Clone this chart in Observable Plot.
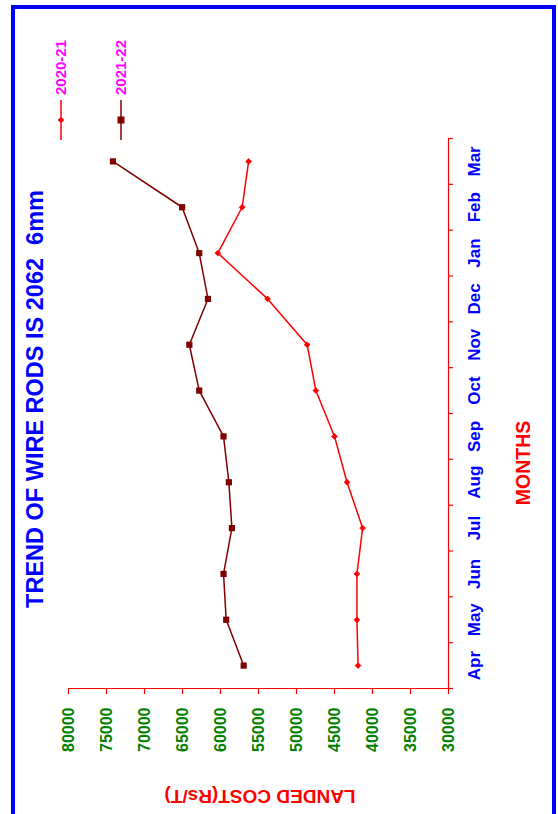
<!DOCTYPE html>
<html><head><meta charset="utf-8">
<script src="https://cdn.jsdelivr.net/npm/d3@7"></script>
<script src="https://cdn.jsdelivr.net/npm/@observablehq/plot@0.6"></script>
<style>
html,body{margin:0;padding:0;background:#fff;overflow:hidden;}
#page{position:relative;width:558px;height:814px;overflow:hidden;background:#fff;}
#wrap{position:absolute;left:0;top:0;width:814px;height:558px;transform-origin:0 0;transform:translate(0,814px) rotate(-90deg);}
#chart{position:absolute;left:0;top:0;width:814px;height:558px;}
#border{position:absolute;left:-10px;top:11px;width:819px;height:545px;border:4px solid #0000ff;box-sizing:border-box;pointer-events:none;}
</style></head><body>
<div id="page"><div id="wrap"><div id="chart"></div><div id="border"></div></div></div>
<script>
const months = ["Apr","May","Jun","Jul","Aug","Sep","Oct","Nov","Dec","Jan","Feb","Mar"];
const seriesNames = ["2020-21", "2021-22"];
const cost2020_21 = [41900, 42050, 42050, 41300, 43350, 45000, 47450, 48600, 53800, 60350, 57150, 56300];
const cost2021_22 = [56950, 59250, 59600, 58500, 58900, 59600, 62800, 64100, 61650, 62800, 65050, 74150];
const costTicks = [30000, 35000, 40000, 45000, 50000, 55000, 60000, 65000, 70000, 75000, 80000];
const titleText = "TREND OF WIRE RODS IS 2062\u00a0\u00a06mm";
const xLabel = "MONTHS";
const yLabel = "LANDED COST(Rs/T)";

const RED = "#ff0000", DARK = "#800000", BLUE = "#0000ff", GREEN = "#008000", MAGENTA = "#ff00ff";
const FONT = "'Liberation Sans', Arial, Helvetica, sans-serif";

const d1 = months.map((m, i) => ({i, month: m, v: cost2020_21[i]}));
const d2 = months.map((m, i) => ({i, month: m, v: cost2021_22[i]}));
const bounds = d3.range(-0.5, months.length, 1);
const idx = d3.range(months.length);

const svg = Plot.plot({
  width: 814, height: 558,
  marginLeft: 125, marginRight: 139, marginTop: 68, marginBottom: 110,
  style: {fontFamily: FONT, fontWeight: "bold", background: "transparent", overflow: "visible"},
  x: {domain: [-0.5, months.length - 0.5]},
  y: {domain: [30000, 80000]},
  marks: [
    Plot.ruleY([30000], {stroke: RED, strokeWidth: 1.2}),
    Plot.ruleX([-0.5], {stroke: RED, strokeWidth: 1.2}),
    Plot.axisX(bounds, {anchor: "bottom", tickSize: 5, stroke: RED, strokeWidth: 1.2, tickFormat: () => "", label: null}),
    Plot.axisX(idx, {anchor: "bottom", tickSize: 0, tickPadding: 19, tickFormat: i => months[i], fill: BLUE, fontSize: 17, fontWeight: "bold", label: null}),
    Plot.axisY(costTicks, {anchor: "left", tickSize: 5, tickPadding: 14, stroke: RED, strokeWidth: 1.2, fill: GREEN, fontSize: 16, fontWeight: "bold", tickFormat: d => String(d), label: null}),
    Plot.line(d1, {x: "i", y: "v", stroke: RED, strokeWidth: 1.5}),
    Plot.dot(d1, {x: "i", y: "v", symbol: "diamond2", r: 2.6, fill: RED, stroke: RED, strokeWidth: 0.8}),
    Plot.line(d2, {x: "i", y: "v", stroke: DARK, strokeWidth: 1.5}),
    Plot.dot(d2, {x: "i", y: "v", symbol: "square", r: 3.5, fill: DARK, stroke: "none"})
  ]
});
document.getElementById("chart").appendChild(svg);

const s = d3.select(svg);
// title
s.append("text").attr("x", 415).attr("y", 43).attr("text-anchor", "middle")
  .attr("fill", BLUE).attr("font-size", 23.5).attr("font-weight", "bold").attr("font-family", FONT).text(titleText);
// x label
s.append("text").attr("x", 351).attr("y", 530).attr("text-anchor", "middle")
  .attr("fill", RED).attr("font-size", 19.5).attr("font-weight", "bold").attr("font-family", FONT).text(xLabel);
// y label
s.append("text").attr("transform", "translate(24,260) rotate(-90)").attr("text-anchor", "middle")
  .attr("fill", RED).attr("font-size", 19).attr("font-weight", "bold").attr("font-family", FONT).text(yLabel);
// legend
const leg = [{name: seriesNames[0], color: RED, sym: d3.symbolDiamond2, size: 28, v: 61},
             {name: seriesNames[1], color: DARK, sym: d3.symbolSquare, size: 49, v: 121}];
leg.forEach(L => {
  const g = s.append("g");
  g.append("line").attr("x1", 674).attr("x2", 714).attr("y1", L.v).attr("y2", L.v).attr("stroke", L.color).attr("stroke-width", 1.5);
  g.append("path").attr("transform", `translate(694,${L.v})`).attr("d", d3.symbol(L.sym, L.size)()).attr("fill", L.color);
  g.append("text").attr("x", 719).attr("y", L.v).attr("dy", "0.36em").attr("text-anchor", "start").attr("fill", MAGENTA)
    .attr("font-size", 15).attr("font-weight", "bold").attr("font-family", FONT).text(L.name);
});
</script>
</body></html>
